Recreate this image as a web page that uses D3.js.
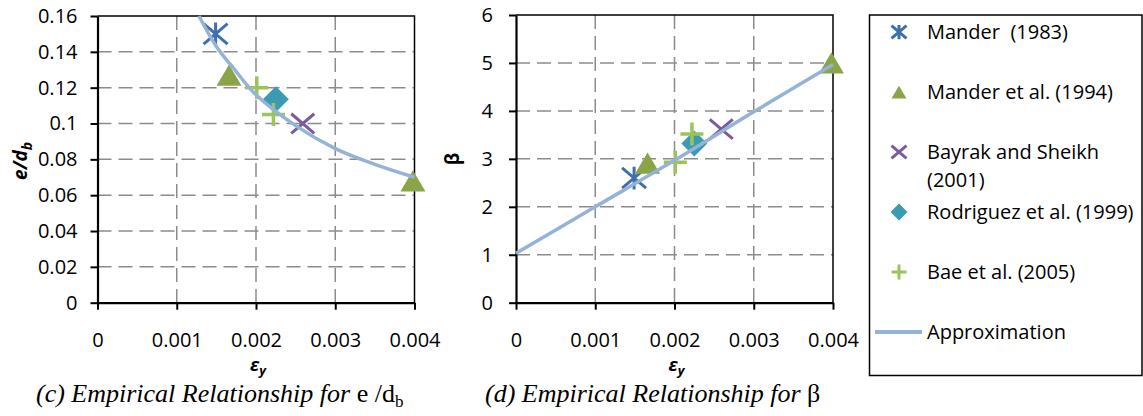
<!DOCTYPE html>
<html>
<head>
<meta charset="utf-8">
<script src="https://cdn.jsdelivr.net/npm/d3@7"></script>
<style>
  body { margin: 0; background: #fff; }
  svg { display: block; }
</style>
</head>
<body>
<svg id="chart" width="1143" height="416"></svg>
<script>
// ---- data ----
const xTicks = [0, 0.001, 0.002, 0.003, 0.004];
const xLabels = ["0", "0.001", "0.002", "0.003", "0.004"];
const yTicksC = [0, 0.02, 0.04, 0.06, 0.08, 0.1, 0.12, 0.14, 0.16];
const yLabelsC = ["0", "0.02", "0.04", "0.06", "0.08", "0.1", "0.12", "0.14", "0.16"];
const yTicksD = [0, 1, 2, 3, 4, 5, 6];
const yLabelsD = ["0", "1", "2", "3", "4", "5", "6"];

const seriesNames = ["Mander  (1983)", "Mander et al. (1994)", "Bayrak and Sheikh", "Rodriguez et al. (1999)", "Bae et al. (2005)"];

const manderX = [0.00149];
const manderC = [0.150];
const manderD = [2.6];

const mander94X = [0.00166, 0.00398];
const mander94C = [0.127, 0.068];
const mander94D = [2.91, 5.0];

const bayrakX = [0.00259];
const bayrakC = [0.100];
const bayrakD = [3.62];

const rodriguezX = [0.00225];
const rodriguezC = [0.1135];
const rodriguezD = [3.32];

const baeX = [0.00201, 0.00222];
const baeC = [0.120, 0.105];
const baeD = [2.93, 3.52];

// approximation curve, points
const approxCX = [0.00128, 0.0015, 0.00175, 0.002, 0.0025, 0.003, 0.0035, 0.004];
const approxCY = [0.160, 0.143, 0.129, 0.116, 0.0988, 0.0860, 0.0772, 0.0700];
const approxDX = [0, 0.001, 0.002, 0.003, 0.004];
const approxDY = [1.03, 2.0, 2.97, 3.98, 4.97];

const colors = {
  mander: "#4070ac",
  mander94: "#8aa448",
  bayrak: "#7a5c9c",
  rodriguez: "#3b9bb3",
  bae: "#9bc45a",
  approx: "#95b3d7"
};

const FONT = "'Open Sans', 'Noto Sans', sans-serif";
const SERIF = "'Liberation Serif', 'Times New Roman', serif";
const svg = d3.select("#chart");

// ---- marker shapes ----
function markerPath(type, s) {
  // s = half size
  if (type === "star") {
    return `M${-s},${-s * 0.85}L${s},${s * 0.85}M${-s},${s * 0.85}L${s},${-s * 0.85}M0,${-s * 0.95}L0,${s * 0.95}`;
  }
  if (type === "x") {
    return `M${-s},${-s * 0.85}L${s},${s * 0.85}M${-s},${s * 0.85}L${s},${-s * 0.85}`;
  }
  if (type === "plus") {
    return `M${-s},0L${s},0M0,${-s}L0,${s}`;
  }
  if (type === "tri") {
    return `M0,${-s * 0.85}L${s},${s * 0.85}L${-s},${s * 0.85}Z`;
  }
  if (type === "diamond") {
    return `M0,${-s}L${s},0L0,${s}L${-s},0Z`;
  }
}

function drawMarkers(g, xs, ys, type, color, x, y, s) {
  const pts = xs.map((d, i) => ({ x: d, y: ys[i] }));
  const filled = type === "tri" || type === "diamond";
  g.selectAll(null)
    .data(pts)
    .enter()
    .append("path")
    .attr("transform", d => `translate(${x(d.x)},${y(d.y)})`)
    .attr("d", markerPath(type, s))
    .attr("fill", filled ? color : "none")
    .attr("stroke", filled ? "none" : color)
    .attr("stroke-width", type === "plus" ? 3.5 : 3);
}

function panel(opt) {
  const x = d3.scaleLinear().domain([0, 0.004]).range([opt.left, opt.right]);
  const y = d3.scaleLinear().domain([0, opt.yMax]).range([opt.bottom, opt.top]);
  const g = svg.append("g");

  // dashed grid
  g.selectAll(null).data(opt.yTicks.slice(1, -1)).enter().append("line")
    .attr("x1", opt.left).attr("x2", opt.right)
    .attr("y1", d => y(d)).attr("y2", d => y(d))
    .attr("stroke", "#8c8c8c").attr("stroke-width", 1.5)
    .attr("stroke-dasharray", "14,7");
  g.selectAll(null).data(xTicks.slice(1, -1)).enter().append("line")
    .attr("y1", opt.top).attr("y2", opt.bottom)
    .attr("x1", d => x(d)).attr("x2", d => x(d))
    .attr("stroke", "#8c8c8c").attr("stroke-width", 1.5)
    .attr("stroke-dasharray", "14,7");

  // top / right border
  g.append("path")
    .attr("d", `M${opt.left},${opt.top}H${opt.right}V${opt.bottom}`)
    .attr("fill", "none").attr("stroke", "#000").attr("stroke-width", 1.5);

  // axes
  const xa = g.append("g")
    .attr("transform", `translate(0,${opt.bottom})`)
    .call(d3.axisBottom(x).tickValues(xTicks).tickFormat((d, i) => xLabels[i])
      .tickSizeInner(7).tickSizeOuter(0).tickPadding(23));
  const ya = g.append("g")
    .attr("transform", `translate(${opt.left},0)`)
    .call(d3.axisLeft(y).tickValues(opt.yTicks).tickFormat((d, i) => opt.yLabels[i])
      .tickSizeInner(7).tickSizeOuter(0).tickPadding(opt.yPad));
  [xa, ya].forEach(a => {
    a.attr("font-family", FONT).attr("font-size", 20);
    a.select(".domain").attr("stroke", "#000").attr("stroke-width", 2.2);
    a.selectAll(".tick line").attr("stroke", "#000").attr("stroke-width", 2);
    a.selectAll(".tick text").attr("fill", "#000");
  });

  // markers
  drawMarkers(g, manderX, opt.mander, "star", colors.mander, x, y, 12);
  drawMarkers(g, mander94X, opt.mander94, "tri", colors.mander94, x, y, 12.5);
  drawMarkers(g, bayrakX, opt.bayrak, "x", colors.bayrak, x, y, 11.5);
  drawMarkers(g, rodriguezX, opt.rodriguez, "diamond", colors.rodriguez, x, y, 13);
  drawMarkers(g, baeX, opt.bae, "plus", colors.bae, x, y, 11.5);

  // approximation line
  const pts = opt.ax.map((d, i) => ({ x: d, y: opt.ay[i] }));
  g.append("path")
    .datum(pts)
    .attr("d", d3.line().x(d => x(d.x)).y(d => y(d.y)).curve(d3.curveCatmullRom))
    .attr("fill", "none")
    .attr("stroke", colors.approx)
    .attr("stroke-width", 3.5);

  // x title
  const xt = g.append("text")
    .attr("x", (opt.left + opt.right) / 2 + 2).attr("y", 371)
    .attr("text-anchor", "middle")
    .attr("font-family", FONT).attr("font-size", 18)
    .attr("font-weight", "bold").attr("font-style", "italic");
  xt.append("tspan").text("ε");
  xt.append("tspan").attr("font-size", 13).attr("dy", 4).text("y");

  return { x, y, g };
}

panel({
  left: 97.5, right: 414.5, top: 16, bottom: 302.7, yMax: 0.16,
  yTicks: yTicksC, yLabels: yLabelsC, yPad: 13,
  mander: manderC, mander94: mander94C, bayrak: bayrakC, rodriguez: rodriguezC, bae: baeC,
  ax: approxCX, ay: approxCY
});
panel({
  left: 516, right: 833, top: 15, bottom: 302.7, yMax: 6,
  yTicks: yTicksD, yLabels: yLabelsD, yPad: 16,
  mander: manderD, mander94: mander94D, bayrak: bayrakD, rodriguez: rodriguezD, bae: baeD,
  ax: approxDX, ay: approxDY
});

// y titles (rotated)
const yt1 = svg.append("text")
  .attr("transform", "translate(27,161) rotate(-90)")
  .attr("text-anchor", "middle")
  .attr("font-family", FONT).attr("font-size", 19)
  .attr("font-weight", "bold").attr("font-style", "italic");
yt1.append("tspan").text("e/d");
yt1.append("tspan").attr("font-size", 14).attr("dy", 5).text("b");

svg.append("text")
  .attr("transform", "translate(459,159) rotate(-90)")
  .attr("text-anchor", "middle")
  .attr("font-family", FONT).attr("font-size", 19)
  .attr("font-weight", "bold")
  .text("β");

// captions
const cap1 = svg.append("text")
  .attr("x", 36).attr("y", 402)
  .attr("font-family", SERIF)
  .attr("font-size", 26);
cap1.append("tspan").attr("font-style", "italic").text("(c) Empirical Relationship for ");
cap1.append("tspan").text("e /d");
cap1.append("tspan").attr("font-size", 17).attr("dy", 5).text("b");

const cap2 = svg.append("text")
  .attr("x", 485).attr("y", 402)
  .attr("font-family", SERIF)
  .attr("font-size", 26);
cap2.append("tspan").attr("font-style", "italic").text("(d) Empirical Relationship for ");
cap2.append("tspan").text("β");

// legend
const leg = svg.append("g");
leg.append("rect")
  .attr("x", 869.5).attr("y", 15).attr("width", 272.5).attr("height", 360.5)
  .attr("fill", "#fff").attr("stroke", "#000").attr("stroke-width", 1.5);

const legendRows = [
  { type: "star", color: colors.mander, y: 32, lines: [seriesNames[0]] },
  { type: "tri", color: colors.mander94, y: 92, lines: [seriesNames[1]] },
  { type: "x", color: colors.bayrak, y: 152, lines: [seriesNames[2], "(2001)"] },
  { type: "diamond", color: colors.rodriguez, y: 212, lines: [seriesNames[3]] },
  { type: "plus", color: colors.bae, y: 272, lines: [seriesNames[4]] }
];
legendRows.forEach(r => {
  const filled = r.type === "tri" || r.type === "diamond";
  leg.append("path")
    .attr("transform", `translate(899,${r.y})`)
    .attr("d", markerPath(r.type, r.type === "diamond" ? 8.5 : 7.5))
    .attr("fill", filled ? r.color : "none")
    .attr("stroke", filled ? "none" : r.color)
    .attr("stroke-width", 3);
  r.lines.forEach((t, i) => {
    leg.append("text")
      .attr("x", 927).attr("y", r.y + i * 28)
      .attr("dy", "0.36em")
      .attr("font-family", FONT).attr("font-size", 20)
      .style("white-space", "pre")
      .text(t);
  });
});
leg.append("line")
  .attr("x1", 875).attr("x2", 922).attr("y1", 332).attr("y2", 332)
  .attr("stroke", colors.approx).attr("stroke-width", 4);
leg.append("text")
  .attr("x", 927).attr("y", 332).attr("dy", "0.36em")
  .attr("font-family", FONT).attr("font-size", 20)
  .text("Approximation");
</script>
</body>
</html>
